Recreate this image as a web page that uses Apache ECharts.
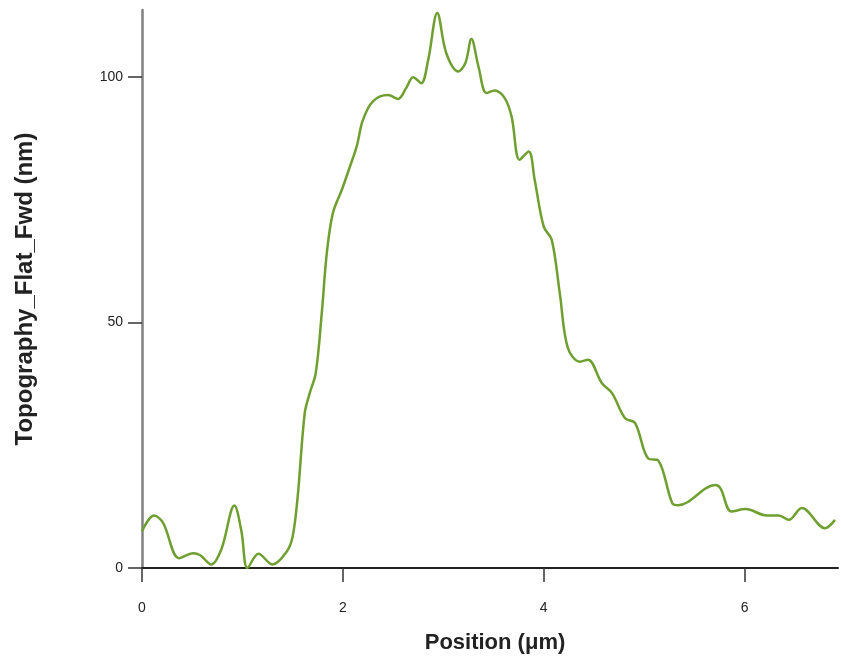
<!DOCTYPE html>
<html>
<head>
<meta charset="utf-8">
<script src="https://cdn.jsdelivr.net/npm/echarts@6/dist/echarts.min.js"></script>
<style>
html,body{margin:0;padding:0;background:#fff;}
#chart{width:841px;height:666px;}
</style>
</head>
<body>
<div id="chart"></div>
<script>
// Position along the profile (µm)
var positions = [0.00,0.12,0.21,0.37,0.51,0.58,0.69,0.79,0.92,0.99,1.05,1.16,1.30,1.44,1.50,1.55,1.62,1.67,1.73,1.79,1.84,1.90,1.99,2.07,2.14,2.19,2.25,2.30,2.37,2.45,2.55,2.63,2.70,2.78,2.85,2.94,3.03,3.15,3.22,3.28,3.35,3.43,3.51,3.61,3.68,3.76,3.85,3.91,4.00,4.08,4.16,4.24,4.36,4.44,4.58,4.68,4.81,4.91,5.04,5.14,5.28,5.34,5.71,5.76,5.87,6.01,6.22,6.34,6.44,6.57,6.80,6.90];
// Topography height (nm)
var heights = [7.5,10.7,9.2,2.0,3.0,2.6,0.7,3.8,12.7,7.5,0.0,2.9,0.7,3.3,6.4,14.5,31.5,35.6,39.7,51.9,64.1,72.2,77.0,81.7,86.0,90.6,93.6,95.0,96.0,96.3,95.5,97.7,99.9,98.7,103.5,113.0,104.8,101.1,102.8,107.7,102.1,96.7,97.2,95.7,91.9,83.1,84.8,79.0,69.5,66.8,55.9,44.8,42.0,42.4,37.6,35.6,30.5,29.5,22.3,21.9,13.2,12.8,16.9,16.2,11.5,12.0,10.7,10.7,9.8,12.2,8.1,9.8];
var xTicks = [0,2,4,6];
var yTicks = [0,50,100];
var xTitle = 'Position (μm)';
var yTitle = 'Topography_Flat_Fwd (nm)';

var data = positions.map(function(p,i){return [p, heights[i]];});

var chart = echarts.init(document.getElementById('chart'), null, {renderer:'canvas'});
chart.setOption({
  animation:false,
  backgroundColor:'#ffffff',
  grid:{left:142, right:3, top:10, bottom:98, containLabel:false},
  xAxis:{
    type:'value', min:0, max:6.93,
    name:xTitle, nameLocation:'middle', nameGap:64,
    nameTextStyle:{fontFamily:'Liberation Sans', fontSize:22, fontWeight:'bold', color:'#222', padding:[0,0,0,10]},
    axisLine:{show:true, onZero:false, lineStyle:{color:'#222', width:2}},
    axisTick:{show:true, inside:false, length:14, customValues:xTicks, lineStyle:{color:'#333', width:1.5}},
    axisLabel:{customValues:xTicks, margin:33, fontFamily:'Liberation Sans', fontSize:14, color:'#222'},
    splitLine:{show:false}
  },
  yAxis:{
    type:'value', min:0, max:113.6,
    name:yTitle, nameLocation:'middle', nameGap:105,
    nameTextStyle:{fontFamily:'Liberation Sans', fontSize:24, fontWeight:'bold', color:'#222'},
    axisLine:{show:true, lineStyle:{color:'#808080', width:2.5}},
    axisTick:{show:true, inside:false, length:14, customValues:yTicks, lineStyle:{color:'#333', width:1.5}},
    axisLabel:{customValues:yTicks, margin:19, fontFamily:'Liberation Sans', fontSize:14, color:'#222'},
    splitLine:{show:false}
  },
  series:[{
    type:'line',
    data:data,
    smooth:0.35,
    showSymbol:false,
    lineStyle:{color:'#6e9f30', width:2.5},
    clip:false
  }]
});
</script>
</body>
</html>
